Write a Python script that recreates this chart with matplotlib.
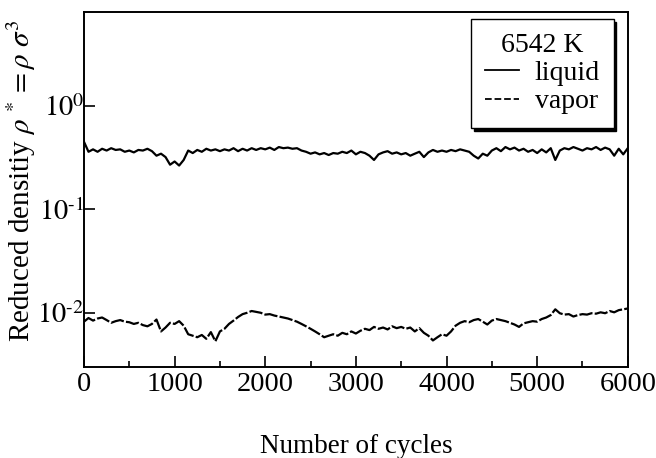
import numpy as np
import matplotlib
matplotlib.use("Agg")
import matplotlib.pyplot as plt
import matplotlib.ticker as ticker
from matplotlib.lines import Line2D

plt.rcParams["font.family"] = ["Liberation Serif", "DejaVu Serif"]
plt.rcParams["mathtext.fontset"] = "stix"

cycles = list(range(0, 6001, 50))

liquid = [
    0.45, 0.36, 0.38, 0.36, 0.385, 0.37, 0.39, 0.375, 0.38, 0.36,
    0.37, 0.355, 0.375, 0.37, 0.385, 0.365, 0.33, 0.345, 0.32, 0.27,
    0.29, 0.265, 0.30, 0.37, 0.35, 0.375, 0.36, 0.385, 0.37, 0.38,
    0.365, 0.38, 0.37, 0.39, 0.365, 0.385, 0.37, 0.39, 0.375, 0.39,
    0.38, 0.395, 0.375, 0.40, 0.39, 0.395, 0.385, 0.39, 0.37, 0.36,
    0.345, 0.355, 0.34, 0.35, 0.335, 0.35, 0.345, 0.36, 0.35, 0.37,
    0.34, 0.36, 0.35, 0.33, 0.30, 0.34, 0.355, 0.365, 0.345, 0.355,
    0.34, 0.35, 0.33, 0.345, 0.36, 0.32, 0.355, 0.375, 0.36, 0.37,
    0.36, 0.375, 0.365, 0.38, 0.37, 0.36, 0.33, 0.31, 0.345, 0.33,
    0.37, 0.39, 0.365, 0.40, 0.38, 0.395, 0.37, 0.385, 0.36, 0.375,
    0.35, 0.38, 0.355, 0.39, 0.30, 0.37, 0.39, 0.38, 0.40, 0.385,
    0.37, 0.39, 0.38, 0.40, 0.375, 0.395, 0.38, 0.33, 0.385, 0.34,
    0.39,
]

vapor = [
    0.0082, 0.0089, 0.0084, 0.0088, 0.0090, 0.0085, 0.0080, 0.0083, 0.0085, 0.0082,
    0.0081, 0.0078, 0.0080, 0.0076, 0.0074, 0.0078, 0.0086, 0.0066, 0.0072, 0.0080,
    0.0078, 0.0083, 0.0075, 0.0062, 0.0060, 0.0058, 0.0061, 0.0056, 0.0065, 0.0053,
    0.0066, 0.0070, 0.0078, 0.0084, 0.0091, 0.0097, 0.0100, 0.0104, 0.0102, 0.0100,
    0.0096, 0.0097, 0.0094, 0.0092, 0.0090, 0.0088, 0.0085, 0.0082, 0.0078, 0.0074,
    0.0070, 0.0066, 0.0062, 0.0058, 0.0060, 0.0062, 0.0060, 0.0064, 0.0062, 0.0066,
    0.0063, 0.0067, 0.0070, 0.0068, 0.0073, 0.0070, 0.0072, 0.0069, 0.0074, 0.0071,
    0.0073, 0.0070, 0.0072, 0.0066, 0.0071, 0.0064, 0.0060, 0.0054, 0.0058, 0.0062,
    0.0060, 0.0066, 0.0075, 0.0080, 0.0083, 0.0081, 0.0085, 0.0087, 0.0082, 0.0077,
    0.0084, 0.0087, 0.0085, 0.0083, 0.0080, 0.0077, 0.0073, 0.0079, 0.0081, 0.0083,
    0.0082, 0.0087, 0.0090, 0.0095, 0.0108, 0.0099, 0.0096, 0.0097, 0.0092, 0.0095,
    0.0097, 0.0096, 0.0099, 0.0098, 0.0101, 0.0099, 0.0104, 0.0101, 0.0106, 0.0108,
    0.0110,
]


def decade_label(v, pos):
    k = int(round(np.log10(v)))
    if k < 0:
        return r"$10^{\text{-}%d}$" % (-k)
    return r"$10^{%d}$" % k


fig = plt.figure(figsize=(6.56, 4.58), dpi=100)
ax = fig.add_axes([0.128, 0.199, 0.829, 0.775])

ax.plot(cycles, liquid, color="black", lw=1.6, linestyle="-")
ax.plot(cycles, vapor, color="black", lw=1.6, linestyle=(0, (6, 1)))

ax.set_yscale("log")
ax.set_xlim(0, 6000)
ax.set_ylim(0.003, 8.1)

ax.xaxis.set_major_locator(ticker.MultipleLocator(1000))
ax.xaxis.set_minor_locator(ticker.MultipleLocator(500))
ax.yaxis.set_major_locator(ticker.LogLocator(base=10, numticks=10))
ax.yaxis.set_minor_locator(ticker.NullLocator())
ax.yaxis.set_major_formatter(ticker.FuncFormatter(decade_label))

ax.tick_params(axis="both", which="major", direction="in", length=8, width=1.2,
               pad=4, top=False, right=False)
ax.tick_params(axis="x", which="major", labelsize=20.5)
ax.tick_params(axis="y", which="major", labelsize=20.5, pad=0)
ax.tick_params(axis="x", which="minor", direction="in", length=4, width=1.2)
for sp in ax.spines.values():
    sp.set_linewidth(1.4)

ax.set_xlabel("Number of cycles", fontsize=19.5)
ax.xaxis.set_label_coords(0.5, -0.19)
ax.set_ylabel(r"Reduced densitiy $\rho^{\,*} = \rho\ \sigma^{3}$", fontsize=21)
ax.yaxis.set_label_coords(-0.084, 0.525)

handles = [Line2D([], [], color="black", lw=1.3, linestyle="-"),
           Line2D([], [], color="black", lw=1.3, linestyle="--")]
leg = ax.legend(handles, ["liquid", "vapor"], title="6542 K", fontsize=20,
                title_fontsize=20, loc="upper right", bbox_to_anchor=(0.974, 0.98),
                borderaxespad=0, fancybox=False, handlelength=1.25,
                handletextpad=0.55, labelspacing=0.1, borderpad=0.5,
                shadow={"color": "black", "alpha": 1, "ox": 2, "oy": -2})
leg.get_frame().set_edgecolor("black")
leg.get_frame().set_linewidth(1.0)
leg.get_frame().set_alpha(1)

fig.savefig("out.png", dpi=100)
